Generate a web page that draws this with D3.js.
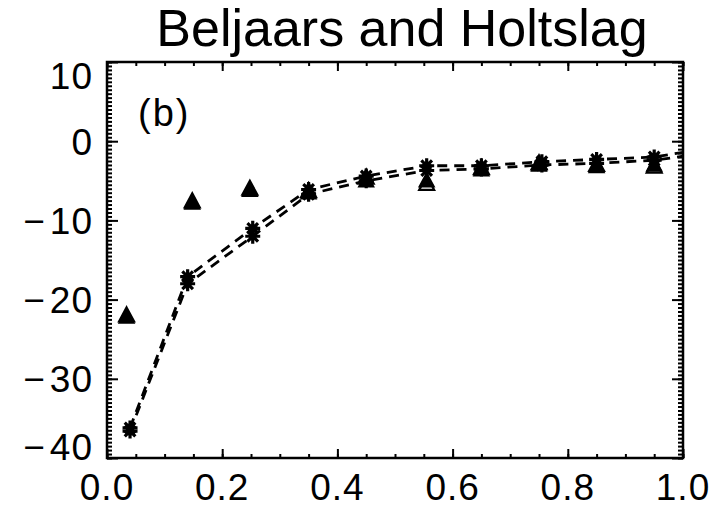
<!DOCTYPE html>
<html>
<head>
<meta charset="utf-8">
<script src="https://cdn.jsdelivr.net/npm/d3@7"></script>
<style>
  body { margin: 0; background: #fff; }
  text { font-family: "Liberation Sans", Arial, Helvetica, sans-serif; fill: #000; }
</style>
</head>
<body>
<div id="chart"></div>
<script>
var svgWidth = 722;
var svgHeight = 512;

var margin = { top: 62, right: 39, bottom: 54, left: 107 };
var width = svgWidth - margin.left - margin.right;
var height = svgHeight - margin.top - margin.bottom;

// data
var starX = [0.04, 0.14, 0.253, 0.35, 0.45, 0.555, 0.65, 0.755, 0.85, 0.95];
var starA = [-36.2, -17.1, -11.0, -6.1, -4.4, -3.1, -3.1, -2.6, -2.3, -2.0];
var starB = [-36.6, -18.0, -12.0, -6.7, -5.0, -3.7, -3.5, -3.0, -2.8, -2.4];
// the dashed lines run on to the right frame
var lineEndX = 1.0;
var lineEndA = -1.4;
var lineEndB = -1.9;

var triX = [0.034, 0.148, 0.248, 0.35, 0.45, 0.555, 0.65, 0.75, 0.85, 0.95];
var triFilled = [-22.2, -7.8, -6.2, -6.5, -5.0, -5.0, -3.6, -3.0, -3.2, -3.0];
var triOpen = [-22.0, -7.6, -6.0, -6.3, -4.6, -5.4, -3.4, -2.8, -3.0, -3.2];

var xTicks = [0.0, 0.2, 0.4, 0.6, 0.8, 1.0];
var yTicks = [10, 0, -10, -20, -30, -40];

var svg = d3.select("#chart")
  .append("svg")
  .attr("width", svgWidth)
  .attr("height", svgHeight);

var chartGroup = svg.append("g")
  .attr("transform", `translate(${margin.left}, ${margin.top})`);

var xScale = d3.scaleLinear().domain([0, 1]).range([0, width]);
var yScale = d3.scaleLinear().domain([-40, 10]).range([height, 0]);

// minor ticks
var xMinor = d3.range(0, 1.0001, 0.05).map(d => +d.toFixed(2));
var yMinor = d3.range(-40, 10.001, 0.5);

function tickAxis(axisFn, scale, values, size) {
  return axisFn(scale).tickValues(values).tickSize(size).tickFormat("");
}

// ticks point inward on all four sides
var axes = [
  [d3.axisTop, `translate(0, ${height})`, xScale, xMinor, 4, xTicks, 9],
  [d3.axisBottom, "translate(0, 0)", xScale, xMinor, 4, xTicks, 9],
  [d3.axisRight, "translate(0, 0)", yScale, yMinor, 5, yTicks, 11],
  [d3.axisLeft, `translate(${width}, 0)`, yScale, yMinor, 5, yTicks, 11]
];

axes.forEach(function(a) {
  [[a[3], a[4]], [a[5], a[6]]].forEach(function(t) {
    var g = chartGroup.append("g")
      .attr("transform", a[1])
      .call(tickAxis(a[0], a[2], t[0], t[1]));
    g.select(".domain").remove();
    g.selectAll("line").attr("stroke", "#000").attr("stroke-width", 2);
  });
});

// frame
chartGroup.append("rect")
  .attr("width", width)
  .attr("height", height)
  .attr("fill", "none")
  .attr("stroke", "#000")
  .attr("stroke-width", 2.5);

// tick labels
chartGroup.selectAll("text.xlab")
  .data(xTicks)
  .enter()
  .append("text")
  .attr("class", "xlab")
  .attr("x", d => xScale(d))
  .attr("y", height + 42)
  .attr("text-anchor", "middle")
  .attr("font-size", 37)
  .attr("letter-spacing", 1)
  .text(d => d.toFixed(1));

chartGroup.selectAll("text.ylab")
  .data(yTicks)
  .enter()
  .append("text")
  .attr("class", "ylab")
  .attr("x", -14)
  .attr("y", d => Math.min(Math.max(yScale(d), 14), height - 11))
  .attr("dy", "0.36em")
  .attr("text-anchor", "end")
  .attr("font-size", 37)
  .attr("letter-spacing", 1)
  .text(d => (d < 0 ? "\u2212\u200A" + Math.abs(d) : d));

// title and panel label
svg.append("text")
  .attr("x", 402)
  .attr("y", 46)
  .attr("text-anchor", "middle")
  .attr("font-size", 52)
  .text("Beljaars and Holtslag");

chartGroup.append("text")
  .attr("x", 31)
  .attr("y", 64)
  .attr("font-size", 38)
  .attr("letter-spacing", 2)
  .text("(b)");

// dashed lines through the asterisks
var line = d3.line()
  .x(d => xScale(d[0]))
  .y(d => yScale(d[1]));

[[starA, lineEndA], [starB, lineEndB]].forEach(function(s) {
  var pts = starX.map((x, i) => [x, s[0][i]]);
  pts.push([lineEndX, s[1]]);
  chartGroup.append("path")
    .datum(pts)
    .attr("d", line)
    .attr("fill", "none")
    .attr("stroke", "#000")
    .attr("stroke-width", 2.8)
    .attr("stroke-dasharray", "10,7");
});

// triangles
var triPath = "M0,-8L7.5,6L-7.5,6Z";

chartGroup.selectAll("path.trifill")
  .data(triX.map((x, i) => [x, triFilled[i]]))
  .enter()
  .append("path")
  .attr("class", "trifill")
  .attr("d", triPath)
  .attr("transform", d => `translate(${xScale(d[0])}, ${yScale(d[1])})`)
  .attr("fill", "#000")
  .attr("stroke", "#000")
  .attr("stroke-width", 1.5);

chartGroup.selectAll("path.triopen")
  .data(triX.map((x, i) => [x, triOpen[i]]))
  .enter()
  .append("path")
  .attr("class", "triopen")
  .attr("d", triPath)
  .attr("transform", d => `translate(${xScale(d[0])}, ${yScale(d[1])})`)
  .attr("fill", "none")
  .attr("stroke", "#000")
  .attr("stroke-width", 2.2);

// asterisks
var r = 7.5;
var c = r * 0.707;
var starPath = `M${-r},0L${r},0M0,${-r}L0,${r}M${-c},${-c}L${c},${c}M${-c},${c}L${c},${-c}`;

[starA, starB].forEach(function(s, k) {
  chartGroup.selectAll("path.star" + k)
    .data(starX.map((x, i) => [x, s[i]]))
    .enter()
    .append("path")
    .attr("class", "star" + k)
    .attr("d", starPath)
    .attr("transform", d => `translate(${xScale(d[0])}, ${yScale(d[1])})`)
    .attr("fill", "none")
    .attr("stroke", "#000")
    .attr("stroke-width", 3.2);
});
</script>
</body>
</html>
